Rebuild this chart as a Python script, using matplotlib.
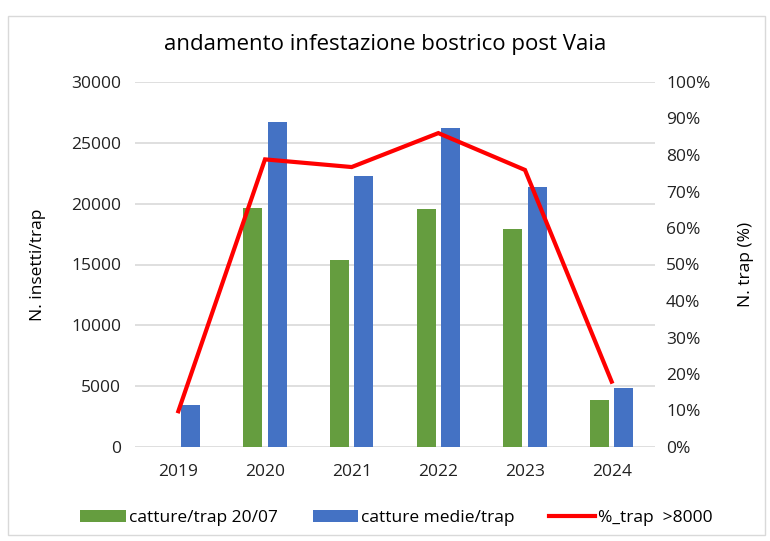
import numpy as np
import matplotlib.pyplot as plt
from matplotlib.patches import Rectangle
from matplotlib.ticker import PercentFormatter

plt.rcParams['font.family'] = ['Open Sans', 'DejaVu Sans']

anni = ['2019', '2020', '2021', '2022', '2023', '2024']
catture_2007 = [0, 19650, 15330, 19560, 17900, 3870]
catture_medie = [3450, 26700, 22270, 26200, 21350, 4890]
perc_trap = [9.8, 78.8, 76.7, 86.0, 75.9, 17.9]

verde = '#659D3F'
blu = '#4472C4'
rosso = '#FF0000'

fig = plt.figure(figsize=(7.7, 5.41), dpi=100)
ax = fig.add_axes([135/770, 1 - 447/541, 520/770, 365/541])
ax2 = ax.twinx()

x = np.arange(len(anni))
w = 0.22
ax.bar(x - 0.14, catture_2007, w, color=verde, label='catture/trap 20/07', zorder=2)
ax.bar(x + 0.14, catture_medie, w, color=blu, label='catture medie/trap', zorder=2)
ax2.plot(x, perc_trap, color=rosso, lw=3, label='%_trap  >8000',
         solid_joinstyle='miter', zorder=3)

ax.set_xlim(-0.5, len(anni) - 0.5)
ax.set_ylim(0, 30000)
ax.set_yticks(range(0, 30001, 5000))
ax2.set_ylim(0, 100)
ax2.set_yticks(range(0, 101, 10))
ax2.yaxis.set_major_formatter(PercentFormatter(decimals=0))
ax.set_xticks(x)
ax.set_xticklabels(anni)

ax.grid(axis='y', color='#D9D9D9', lw=1.2, zorder=0)
for a in (ax, ax2):
    for s in a.spines.values():
        s.set_visible(False)
    a.tick_params(length=0, labelsize=12.5, colors='#222222')
ax.tick_params(axis='x', pad=12)
ax.tick_params(axis='y', pad=10)
ax2.tick_params(axis='y', pad=8)

ax.set_ylabel('N. insetti/trap', fontsize=12.5, labelpad=18)
ax2.set_ylabel('N. trap (%)', fontsize=12.5, labelpad=20)
fig.text(385/770, 1 - 45/541, 'andamento infestazione bostrico post Vaia',
         ha='center', va='center', fontsize=16)

h1, l1 = ax.get_legend_handles_labels()
h2, l2 = ax2.get_legend_handles_labels()
fig.legend(h1 + h2, l1 + l2, loc='center', bbox_to_anchor=(0.515, 1 - 518/541),
           ncol=3, frameon=False, fontsize=12.5, handlelength=2.6,
           handleheight=0.7, columnspacing=2.0, handletextpad=0.2)

fig.patches.append(Rectangle((8/770, 6/541), 757/770, 519/541,
                             transform=fig.transFigure, fill=False,
                             edgecolor='#D9D9D9', lw=1))

fig.savefig('out.png', dpi=100)
